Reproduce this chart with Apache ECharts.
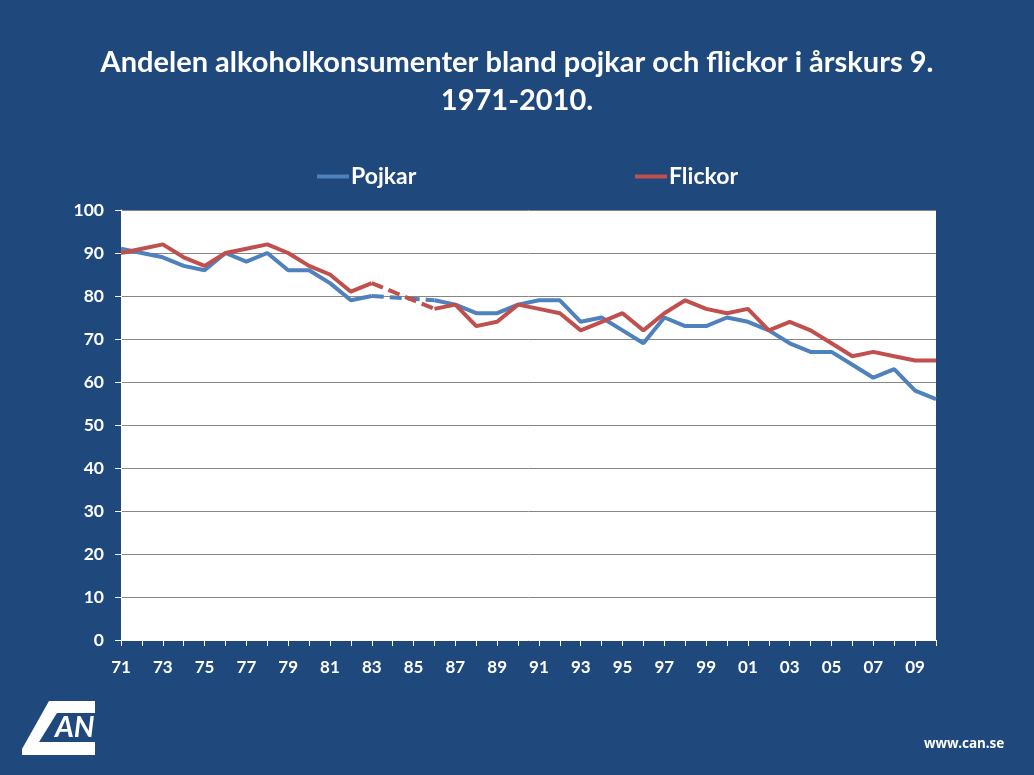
<!DOCTYPE html>
<html><head><meta charset="utf-8">
<script src="https://cdn.jsdelivr.net/npm/echarts@6/dist/echarts.min.js"></script>
<style>html,body{margin:0;padding:0;background:#1F497D;} #c{width:1034px;height:775px;}</style>
</head><body><div id="c"></div>
<script>
const years = ['71','72','73','74','75','76','77','78','79','80','81','82','83','84','85','86','87','88','89','90','91','92','93','94','95','96','97','98','99','00','01','02','03','04','05','06','07','08','09','10'];
const pojkar = [91,90,89,87,86,90,88,90,86,86,83,79,80,null,null,79,78,76,76,78,79,79,74,75,72,69,75,73,73,75,74,72,69,67,67,64,61,63,58,56];
const flickor = [90,91,92,89,87,90,91,92,90,87,85,81,83,null,null,77,78,73,74,78,77,76,72,74,76,72,76,79,77,76,77,72,74,72,69,66,67,66,65,65];
const seriesNames = ['Pojkar','Flickor'];
const colors = ['#4F81BD','#C0504D'];
const titleText = 'Andelen alkoholkonsumenter bland pojkar och flickor i årskurs 9.\n1971-2010.';

function gapBridge(arr){
  const out = arr.map(()=>null);
  for(let i=1;i<arr.length;i++){
    if(arr[i]===null && arr[i-1]!==null){
      let j=i; while(j<arr.length && arr[j]===null) j++;
      if(j<arr.length){ out[i-1]=arr[i-1]; out[j]=arr[j]; }
    }
  }
  return out;
}

const FONT = 'Lato';
const chart = echarts.init(document.getElementById('c'));
const series = [];
[pojkar, flickor].forEach((arr,k)=>{
  series.push({name:seriesNames[k], type:'line', data:arr, symbol:'none', connectNulls:false,
    lineStyle:{color:colors[k], width:4}, itemStyle:{color:colors[k]}, z:2+k});
  series.push({name:seriesNames[k]+'_gap', type:'line', data:gapBridge(arr), symbol:'none', connectNulls:true,
    lineStyle:{color:colors[k], width:4, type:[12,6]}, z:2+k});
});
chart.setOption({
  backgroundColor:'#1F497D',
  animation:false,
  title:{text:titleText, left:'center', top:39,
    textStyle:{color:'#fff', fontSize:29, fontWeight:'bold', fontFamily:FONT, lineHeight:38}},
  legend:[
    {data:[seriesNames[0]], left:312, top:160, icon:'rect', itemWidth:32, itemHeight:4, itemGap:2,
      textStyle:{color:'#fff', fontSize:23, fontWeight:'bold', fontFamily:FONT, padding:[0,0,0,-3]}},
    {data:[seriesNames[1]], left:630, top:160, icon:'rect', itemWidth:32, itemHeight:4, itemGap:2,
      textStyle:{color:'#fff', fontSize:23, fontWeight:'bold', fontFamily:FONT, padding:[0,0,0,-3]}}
  ],
  grid:{left:121, right:98, top:210, bottom:135, show:true, backgroundColor:'#fff', borderWidth:0},
  xAxis:{type:'category', data:years, boundaryGap:false,
    axisLine:{lineStyle:{color:'#fff', width:1}},
    axisTick:{show:true, interval:0, length:6, lineStyle:{color:'#fff'}},
    axisLabel:{interval:1, color:'#fff', fontSize:17, fontWeight:'bold', fontFamily:FONT, margin:19}},
  yAxis:{type:'value', min:0, max:100, interval:10,
    axisLine:{show:true, lineStyle:{color:'#fff'}},
    axisTick:{show:true, length:6, lineStyle:{color:'#fff'}},
    splitLine:{lineStyle:{color:'#868686', width:1}},
    axisLabel:{color:'#fff', fontSize:17.5, fontWeight:'bold', fontFamily:FONT, margin:17}},
  series:series,
  graphic:[
    {type:'polygon', shape:{points:[[49,701],[95,701],[95,755],[22,755],[22,749]]}, style:{fill:'#fff'}},
    {type:'polygon', shape:{points:[[57,713],[95,713],[95,742],[39,742]]}, style:{fill:'#1F497D'}},
    {type:'text', left:55, top:713, style:{text:'AN', fill:'#fff', font:'italic bold 29px Lato'}},
    {type:'text', left:924, top:737, style:{text:'www.can.se', fill:'#fff', font:'bold 13.5px "Noto Sans"'}}
  ]
});
</script></body></html>
